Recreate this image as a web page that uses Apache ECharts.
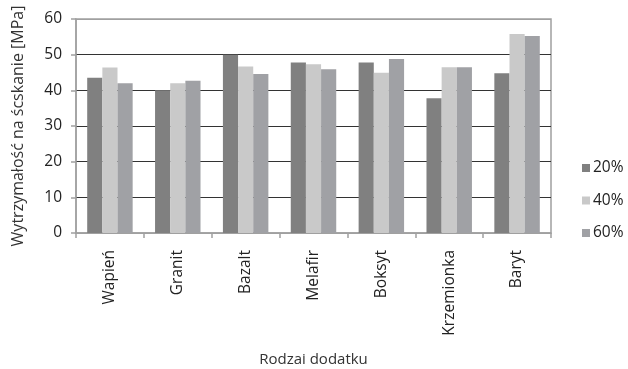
<!DOCTYPE html>
<html><head><meta charset="utf-8">
<script src="https://cdn.jsdelivr.net/npm/echarts@6/dist/echarts.min.js"></script>
<style>html,body{margin:0;padding:0;background:#fff}#c{width:628px;height:369px}</style>
</head><body><div id="c"></div>
<script>
const categories = ['Wapień','Granit','Bazalt','Melafir','Boksyt','Krzemionka','Baryt'];
const s20 = [43.5, 40.0, 50.0, 47.8, 47.8, 37.8, 44.8];
const s40 = [46.4, 42.0, 46.7, 47.3, 44.9, 46.5, 55.8];
const s60 = [42.0, 42.7, 44.6, 45.9, 48.8, 46.5, 55.2];
const seriesNames = ['20%','40%','60%'];
const colors = ['#808080','#c9c9c9','#a0a1a5'];
const yTicks = [0,10,20,30,40,50,60];
const FONT = 'Open Sans';
const chart = echarts.init(document.getElementById('c'), null, {renderer:'canvas'});
const data = [s20, s40, s60];
chart.setOption({
  animation:false,
  textStyle:{fontFamily:FONT},
  grid:{left:76, right:77, top:19, bottom:136, show:true, borderColor:'#a0a0a0', borderWidth:1.5,
    containLabel:false, outerBoundsMode:'none'},
  legend:{orient:'vertical', left:577, top:155, itemWidth:8, itemHeight:8, itemGap:16.5, itemStyle:{borderWidth:0},
    textStyle:{fontFamily:FONT, fontSize:15.5, color:'#222', padding:[0,0,0,-2]}, icon:'rect'},
  xAxis:{type:'category', data:categories, name:'Rodzai dodatku', nameLocation:'middle', nameGap:119,
    nameTextStyle:{fontSize:15, color:'#333', fontFamily:FONT},
    axisLine:{lineStyle:{color:'#a0a0a0', width:1.5}},
    axisTick:{show:true, length:5, lineStyle:{color:'#a0a0a0', width:1.5}},
    axisLabel:{rotate:90, fontSize:15.5, color:'#222', margin:17, interval:0}},
  yAxis:{type:'value', min:0, max:60, interval:10, name:'Wytrzymałość na ścskanie [MPa]',
    nameLocation:'middle', nameGap:50, nameTextStyle:{fontSize:16, color:'#333', fontFamily:FONT},
    axisLine:{show:true, lineStyle:{color:'#a0a0a0', width:1.5}},
    axisTick:{show:true, length:5, lineStyle:{color:'#a0a0a0', width:1.5}},
    axisLabel:{fontSize:15.5, color:'#222', margin:14, formatter:(v)=> yTicks.includes(v)? String(v):''},
    splitLine:{show:true, lineStyle:{color:['#a0a0a0','#333','#333','#333','#333','#333','#a0a0a0'], width:1}}},
  series: data.map((d,i)=>({name:seriesNames[i], type:'bar', data:d, barGap:'0%', barCategoryGap:'33%',
    itemStyle:{color:colors[i]}}))
});
</script></body></html>
